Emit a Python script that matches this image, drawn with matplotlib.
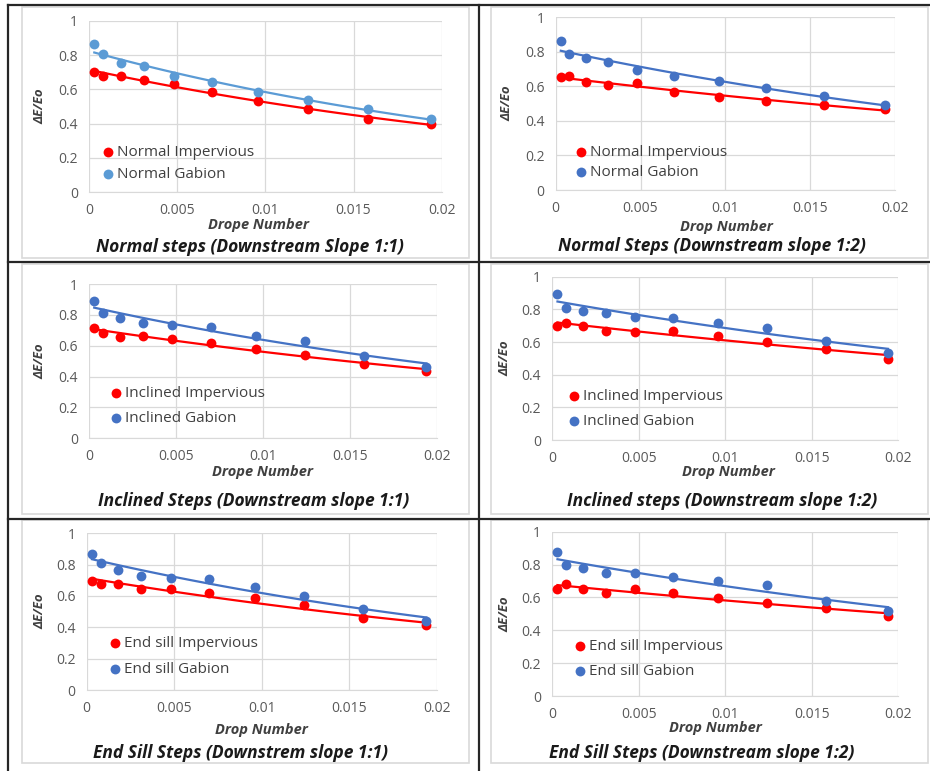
import numpy as np
import matplotlib
matplotlib.use("Agg")
import matplotlib.pyplot as plt
from matplotlib.patches import Rectangle
from matplotlib.lines import Line2D

plt.rcParams['font.family'] = ['Open Sans', 'DejaVu Sans']

W, H = 930, 771

# drop numbers (same for every test series)
drop = [0.0003, 0.0008, 0.0018, 0.0031, 0.0048, 0.0070, 0.0096, 0.0124, 0.0158, 0.0194]

# energy loss ratio dE/Eo
normal11_imp = [0.703, 0.678, 0.678, 0.654, 0.631, 0.584, 0.534, 0.485, 0.429, 0.396]
normal11_gab = [0.866, 0.806, 0.751, 0.736, 0.676, 0.643, 0.584, 0.538, 0.483, 0.429]
normal12_imp = [0.656, 0.658, 0.625, 0.608, 0.618, 0.569, 0.541, 0.517, 0.492, 0.467]
normal12_gab = [0.865, 0.788, 0.763, 0.739, 0.695, 0.662, 0.631, 0.593, 0.546, 0.492]
incl11_imp = [0.717, 0.680, 0.657, 0.663, 0.646, 0.616, 0.577, 0.542, 0.482, 0.438]
incl11_gab = [0.892, 0.814, 0.778, 0.745, 0.734, 0.724, 0.663, 0.629, 0.536, 0.464]
incl12_imp = [0.698, 0.718, 0.698, 0.669, 0.663, 0.669, 0.637, 0.598, 0.555, 0.498]
incl12_gab = [0.892, 0.810, 0.790, 0.780, 0.755, 0.745, 0.718, 0.688, 0.606, 0.531]
sill11_imp = [0.698, 0.677, 0.677, 0.645, 0.645, 0.617, 0.585, 0.540, 0.457, 0.413]
sill11_gab = [0.868, 0.809, 0.766, 0.730, 0.713, 0.706, 0.660, 0.600, 0.517, 0.440]
sill12_imp = [0.651, 0.682, 0.651, 0.629, 0.651, 0.625, 0.594, 0.568, 0.533, 0.489]
sill12_gab = [0.878, 0.797, 0.777, 0.751, 0.746, 0.726, 0.702, 0.675, 0.578, 0.519]

xticks = [0, 0.005, 0.01, 0.015, 0.02]
xticklabels = ['0', '0.005', '0.01', '0.015', '0.02']
yticks = [0, 0.2, 0.4, 0.6, 0.8, 1.0]
yticklabels = ['0', '0.2', '0.4', '0.6', '0.8', '1']

RED = '#FF0000'
BLUE = '#4472C4'
LBLUE = '#5B9BD5'

panels = [
    # imp, gab, names, gabion colour, xlabel, title
    (normal11_imp, normal11_gab, ('Normal Impervious', 'Normal Gabion'), LBLUE,
     'Drope Number', 'Normal steps (Downstream Slope 1:1)'),
    (normal12_imp, normal12_gab, ('Normal Impervious', 'Normal Gabion'), BLUE,
     'Drop Number', 'Normal Steps (Downstream slope 1:2)'),
    (incl11_imp, incl11_gab, ('Inclined Impervious', 'Inclined Gabion'), BLUE,
     'Drope Number', 'Inclined Steps (Downstream slope 1:1)'),
    (incl12_imp, incl12_gab, ('Inclined Impervious', 'Inclined Gabion'), BLUE,
     'Drop Number', 'Inclined steps (Downstream slope 1:2)'),
    (sill11_imp, sill11_gab, ('End sill Impervious', 'End sill Gabion'), BLUE,
     'Drop Number', 'End Sill Steps (Downstrem slope 1:1)'),
    (sill12_imp, sill12_gab, ('End sill Impervious', 'End sill Gabion'), BLUE,
     'Drop Number', 'End Sill Steps (Downstream slope 1:2)'),
]

# layout in pixels: plot box (left, right, top, bottom), legend anchor, spacing,
# xlabel centre, title centre, ylabel x
layout = [
    ((89, 441.7, 20.7, 192.3), (0.028, 0.168), 0.45, (258, 225), (250, 246.7), 40),
    ((555.7, 895, 17.3, 190), (0.048, 0.159), 0.35, (726.7, 227), (711.7, 245.7), 507),
    ((89, 436.7, 284, 438.3), (0.052, 0.209), 0.7, (263, 471.7), (254, 500.7), 40),
    ((552.3, 898.3, 276.7, 440), (0.037, 0.19), 0.7, (728.3, 471.7), (721.7, 500.7), 505),
    ((86.7, 436.7, 533.3, 690), (0.054, 0.215), 0.75, (261, 730), (240.7, 753.3), 40),
    ((552.3, 898.3, 531.7, 696), (0.054, 0.226), 0.65, (715.7, 728.3), (701.7, 753.3), 505),
]

fig = plt.figure(figsize=(W / 100, H / 100), dpi=100)


def fx(px):
    return px / W


def fy(py):
    return 1 - py / H


# chart area frames (light grey) and table lines
frames = [(22, 469, 7, 258), (491, 928, 7, 258), (22, 469, 264, 514),
          (491, 928, 264, 514), (22, 469, 520, 763), (491, 928, 520, 763)]
for l, r, t, b in frames:
    fig.patches.append(Rectangle((fx(l), fy(b)), fx(r) - fx(l), fy(t) - fy(b),
                                 transform=fig.transFigure, fill=False,
                                 edgecolor='#D9D9D9', lw=1.2))
for x0, y0, x1, y1 in [(8, 5, 8, 771), (8, 5, 930, 5), (479, 5, 479, 771),
                       (8, 262, 930, 262), (8, 519, 930, 519)]:
    fig.lines.append(Line2D([fx(x0), fx(x1)], [fy(y0), fy(y1)],
                            transform=fig.transFigure, color='#262626', lw=1.6))

x = np.array(drop)
for (imp, gab, names, gcol, xlab, title), (box, leg, lsp, xl, tl, ylx) in zip(panels, layout):
    l, r, t, b = box
    ax = fig.add_axes([fx(l), fy(b), fx(r) - fx(l), fy(t) - fy(b)])
    ax.set_xlim(0, 0.02)
    ax.set_ylim(0, 1)
    ax.set_xticks(xticks)
    ax.set_xticklabels(xticklabels)
    ax.set_yticks(yticks)
    ax.set_yticklabels(yticklabels)
    ax.tick_params(length=0, labelsize=10, colors='#595959', pad=8)
    ax.grid(True, color='#D9D9D9', lw=0.9)
    ax.set_axisbelow(True)
    for s in ['top', 'right', 'left']:
        ax.spines[s].set_visible(False)
    ax.spines['bottom'].set_color('#D9D9D9')

    for vals, col, name in [(imp, RED, names[0]), (gab, gcol, names[1])]:
        y = np.array(vals)
        ax.scatter(x, y, s=50, color=col, zorder=3, label=name, linewidths=0)
        # exponential trendline fitted to the points
        b1, b0 = np.polyfit(x, np.log(y), 1)
        xs = np.linspace(x.min(), x.max(), 100)
        ax.plot(xs, np.exp(b0) * np.exp(b1 * xs), color=col, lw=1.6, zorder=2)

    ax.legend(loc='center left', bbox_to_anchor=leg, frameon=False, fontsize=11,
              handletextpad=0.0, labelspacing=lsp, borderpad=0, borderaxespad=0,
              handlelength=1.2, labelcolor='#404040')

    fig.text(fx(xl[0]), fy(xl[1]), xlab, ha='center', va='center', fontsize=10.5,
             fontweight='bold', fontstyle='italic', color='#404040')
    fig.text(fx(tl[0]), fy(tl[1]), title, ha='center', va='center', fontsize=12.5,
             fontweight='bold', fontstyle='italic', color='#1a1a1a')
    fig.text(fx(ylx), fy((t + b) / 2), 'ΔE/Eo', ha='center', va='center',
             rotation=90, fontsize=9.5, fontweight='bold', fontstyle='italic',
             color='#404040')

fig.savefig('out.png', dpi=100, facecolor='white')
